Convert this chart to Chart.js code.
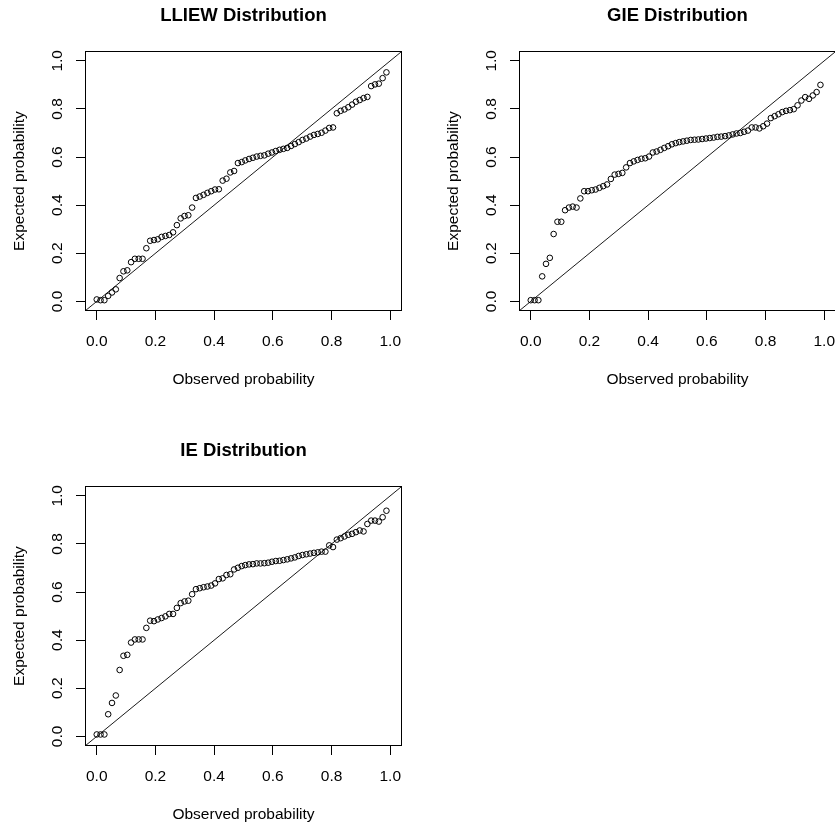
<!DOCTYPE html>
<html>
<head>
<meta charset="utf-8">
<script src="https://cdn.jsdelivr.net/npm/chart.js@4.4.1/dist/chart.umd.min.js"></script>
<style>
  html, body { margin: 0; padding: 0; background: #fff; overflow: hidden; width: 835px; height: 826px; }
  body { position: relative; }
  canvas { position: absolute; }
</style>
</head>
<body>
<canvas id="plotLliew" width="417" height="413" style="left:0;top:0"></canvas>
<canvas id="plotGie" width="417" height="413" style="left:434px;top:0"></canvas>
<canvas id="plotIe" width="417" height="413" style="left:0;top:435px"></canvas>
<script>
// observed probabilities (shared by all three fits)
const observed = [
  0, 0.013, 0.026, 0.039, 0.052, 0.065, 0.078, 0.091, 0.104, 0.117,
  0.130, 0.143, 0.156, 0.169, 0.182, 0.195, 0.208, 0.221, 0.234, 0.247,
  0.260, 0.273, 0.286, 0.299, 0.312, 0.325, 0.338, 0.351, 0.364, 0.377,
  0.390, 0.403, 0.416, 0.429, 0.442, 0.455, 0.468, 0.481, 0.494, 0.506,
  0.519, 0.532, 0.545, 0.558, 0.571, 0.584, 0.597, 0.610, 0.623, 0.636,
  0.649, 0.662, 0.675, 0.688, 0.701, 0.714, 0.727, 0.740, 0.753, 0.766,
  0.779, 0.792, 0.805, 0.818, 0.831, 0.844, 0.857, 0.870, 0.883, 0.896,
  0.909, 0.922, 0.935, 0.948, 0.961, 0.974, 0.987
];

// expected probabilities under each fitted model
const lliewExpected = [
  0.008, 0.005, 0.005, 0.023, 0.037, 0.050, 0.097, 0.125, 0.129, 0.163,
  0.177, 0.177, 0.177, 0.221, 0.252, 0.255, 0.258, 0.268, 0.272, 0.276,
  0.287, 0.317, 0.345, 0.355, 0.358, 0.390, 0.430, 0.436, 0.443, 0.451,
  0.458, 0.465, 0.466, 0.502, 0.510, 0.536, 0.542, 0.575, 0.579, 0.586,
  0.592, 0.597, 0.602, 0.605, 0.607, 0.614, 0.619, 0.625, 0.630, 0.634,
  0.638, 0.646, 0.654, 0.662, 0.671, 0.677, 0.685, 0.692, 0.696, 0.701,
  0.710, 0.721, 0.723, 0.782, 0.792, 0.798, 0.807, 0.818, 0.830, 0.837,
  0.845, 0.850, 0.895, 0.902, 0.905, 0.928, 0.952
];

const gieExpected = [
  0.005, 0.005, 0.005, 0.104, 0.156, 0.181, 0.280, 0.331, 0.331, 0.379,
  0.390, 0.394, 0.390, 0.428, 0.458, 0.458, 0.462, 0.465, 0.472, 0.479,
  0.486, 0.509, 0.527, 0.530, 0.534, 0.557, 0.575, 0.582, 0.588, 0.593,
  0.595, 0.602, 0.619, 0.623, 0.630, 0.638, 0.645, 0.653, 0.658, 0.662,
  0.665, 0.668, 0.671, 0.672, 0.673, 0.675, 0.677, 0.679, 0.681, 0.684,
  0.685, 0.687, 0.690, 0.694, 0.698, 0.700, 0.705, 0.710, 0.723, 0.723,
  0.719, 0.728, 0.739, 0.762, 0.770, 0.778, 0.787, 0.792, 0.795, 0.799,
  0.815, 0.835, 0.849, 0.842, 0.856, 0.870, 0.900
];

const ieExpected = [
  0.008, 0.008, 0.008, 0.092, 0.139, 0.170, 0.276, 0.335, 0.339, 0.390,
  0.403, 0.403, 0.403, 0.451, 0.481, 0.479, 0.486, 0.492, 0.499, 0.509,
  0.509, 0.534, 0.554, 0.561, 0.564, 0.591, 0.612, 0.616, 0.620, 0.623,
  0.627, 0.636, 0.654, 0.657, 0.671, 0.674, 0.694, 0.701, 0.708, 0.712,
  0.715, 0.716, 0.719, 0.719, 0.720, 0.722, 0.726, 0.729, 0.730, 0.733,
  0.736, 0.740, 0.744, 0.750, 0.754, 0.757, 0.760, 0.763, 0.765, 0.768,
  0.768, 0.794, 0.787, 0.818, 0.824, 0.831, 0.838, 0.842, 0.849, 0.856,
  0.852, 0.883, 0.897, 0.897, 0.893, 0.911, 0.938
];

const tickValues = [0, 0.2, 0.4, 0.6, 0.8, 1.0];
const axisRange = [-0.04, 1.04];

const fontFamily = "'Liberation Sans', Arial, Helvetica, sans-serif";
const labelFont = { family: fontFamily, size: 15.5 };

// frame around the plotting region
const plotBox = {
  id: 'plotBox',
  afterDraw(chart) {
    const a = chart.chartArea;
    const ctx = chart.ctx;
    ctx.save();
    ctx.strokeStyle = '#000';
    ctx.lineWidth = 1;
    ctx.strokeRect(Math.round(a.left) + 0.5, Math.round(a.top) + 0.5,
      Math.round(a.right - a.left) - 1, Math.round(a.bottom - a.top) - 1);
    ctx.restore();
  }
};

function axisOptions(titleText, vertical) {
  return {
    type: 'linear',
    min: axisRange[0],
    max: axisRange[1],
    afterBuildTicks: scale => { scale.ticks = tickValues.map(v => ({ value: v })); },
    afterFit: scale => {
      if (vertical) scale.width = 85;
      else scale.height = 102;
    },
    border: { display: false },
    grid: { drawOnChartArea: false, drawTicks: true, tickLength: 9, color: '#000', lineWidth: 1 },
    ticks: {
      color: '#000',
      font: labelFont,
      autoSkip: false,
      padding: vertical ? 8 : 12,
      minRotation: vertical ? 90 : 0,
      maxRotation: vertical ? 90 : 0,
      crossAlign: vertical ? 'center' : 'near',
      callback: v => v.toFixed(1)
    },
    title: {
      display: true,
      text: titleText,
      color: '#000',
      font: labelFont,
      padding: vertical ? { top: 10, bottom: 0 } : { top: 0, bottom: 24 }
    }
  };
}

function ppPlot(canvasId, titleText, expected) {
  const points = observed.map((x, i) => ({ x: x, y: expected[i] }));
  const ctx = document.getElementById(canvasId).getContext('2d');
  return new Chart(ctx, {
    type: 'scatter',
    data: {
      datasets: [
        {
          data: points,
          pointStyle: 'circle',
          pointRadius: 2.8,
          pointBorderWidth: 1,
          borderColor: '#000',
          backgroundColor: 'rgba(0,0,0,0)'
        },
        {
          // 45 degree reference line
          data: [{ x: axisRange[0], y: axisRange[0] }, { x: axisRange[1], y: axisRange[1] }],
          showLine: true,
          borderColor: '#000',
          borderWidth: 0.9,
          pointRadius: 0
        }
      ]
    },
    options: {
      responsive: false,
      animation: false,
      devicePixelRatio: 1,
      layout: { padding: { left: 0, right: 15, top: 0, bottom: 0 } },
      plugins: {
        legend: { display: false },
        tooltip: { enabled: false },
        title: {
          display: true,
          text: titleText,
          fullSize: false,
          color: '#000',
          font: { family: fontFamily, size: 18.5, weight: 'bold' },
          padding: { top: 5, bottom: 24 }
        }
      },
      scales: {
        x: axisOptions('Observed probability', false),
        y: axisOptions('Expected probability', true)
      }
    },
    plugins: [plotBox]
  });
}

ppPlot('plotLliew', 'LLIEW Distribution', lliewExpected);
ppPlot('plotGie', 'GIE Distribution', gieExpected);
ppPlot('plotIe', 'IE Distribution', ieExpected);
</script>
</body>
</html>
